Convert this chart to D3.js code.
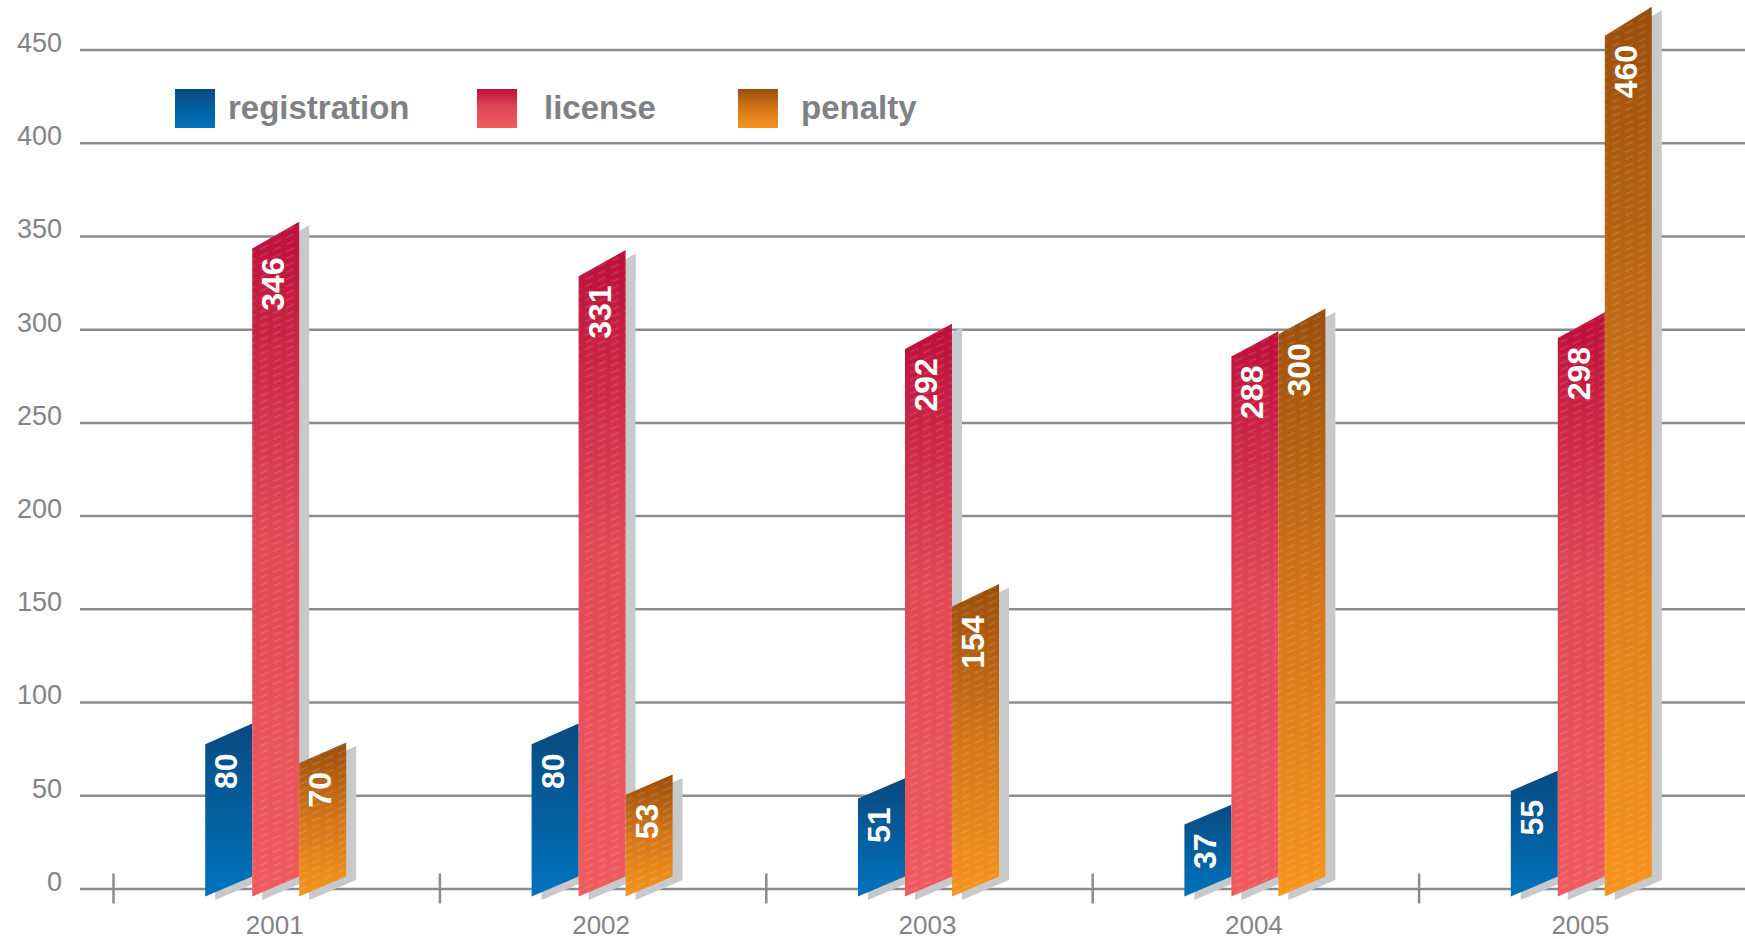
<!DOCTYPE html>
<html>
<head>
<meta charset="utf-8">
<script src="https://cdn.jsdelivr.net/npm/d3@7"></script>
<style>
  html, body { margin: 0; padding: 0; background: #ffffff; }
  svg { display: block; }
</style>
</head>
<body>
<svg id="chart" width="1745" height="939"></svg>
<script>
// ---- data ----
const years = ["2001", "2002", "2003", "2004", "2005"];
const seriesNames = ["registration", "license", "penalty"];
const registration = [80, 80, 51, 37, 55];
const license = [346, 331, 292, 288, 298];
const penalty = [70, 53, 154, 300, 460];
const yTicks = [0, 50, 100, 150, 200, 250, 300, 350, 400, 450];

const seriesValues = [registration, license, penalty];
const gradients = [
  [["0%", "#094a80"], ["100%", "#0073bd"]],
  [["0%", "#bd0f3b"], ["45%", "#e04856"], ["100%", "#f05b5f"]],
  [["0%", "#9a4f0b"], ["50%", "#d4761a"], ["100%", "#f7941d"]]
];
const hatched = [false, true, true];

const W = 1745, H = 939;
const svg = d3.select("#chart");
const defs = svg.append("defs");

gradients.forEach((stops, i) => {
  const g = defs.append("linearGradient").attr("id", "grad" + i)
    .attr("x1", 0).attr("y1", 0).attr("x2", 0).attr("y2", 1);
  stops.forEach(s => g.append("stop").attr("offset", s[0]).attr("stop-color", s[1]));
});

const pat = defs.append("pattern").attr("id", "hatch")
  .attr("patternUnits", "userSpaceOnUse")
  .attr("width", 13).attr("height", 7)
  .attr("patternTransform", "skewY(-24)");
pat.append("line").attr("x1", 0).attr("y1", 1).attr("x2", 8).attr("y2", 1)
  .attr("stroke", "#ffffff").attr("stroke-opacity", 0.2).attr("stroke-width", 1);

// ---- scales ----
const y = d3.scaleLinear().domain([0, 450]).range([888.5, 49.5]);
const x = d3.scaleBand().domain(years).range([113.5, 1745.5]).padding(0);
const inner = d3.scaleBand().domain(seriesNames)
  .range([0, x.bandwidth() * 0.432]).padding(0);
const groupOffset = (x.bandwidth() - inner.range()[1]) / 2 - 1;

const gridColor = "#8b8c90";
const textColor = "#838488";

// ---- y grid / axis ----
const yAxis = d3.axisLeft(y).tickValues(yTicks)
  .tickSize(-(W - 80)).tickPadding(18).tickFormat(d3.format("d"));
const gy = svg.append("g").attr("transform", "translate(80,0)").call(yAxis);
gy.select(".domain").remove();
gy.selectAll(".tick line").attr("stroke", gridColor).attr("stroke-width", 2.5);
gy.selectAll(".tick text")
  .attr("fill", textColor)
  .attr("font-family", "'Liberation Sans', Arial, sans-serif")
  .attr("font-size", 27)
  .attr("dy", "0.07em");

// ---- x axis ----
const xAxis = d3.axisBottom(x).tickSize(0).tickPadding(0);
const gx = svg.append("g").attr("transform", `translate(0,${y(0)})`).call(xAxis);
gx.select(".domain").remove();
gx.selectAll(".tick line").remove();
gx.selectAll(".tick text")
  .attr("fill", textColor)
  .attr("font-family", "'Liberation Sans', Arial, sans-serif")
  .attr("font-size", 26)
  .attr("y", 45).attr("dy", 0)
  .attr("dx", -2);
svg.append("g").selectAll("line").data(years).join("line")
  .attr("x1", d => x(d)).attr("x2", d => x(d))
  .attr("y1", y(0) - 15).attr("y2", y(0) + 15)
  .attr("stroke", gridColor).attr("stroke-width", 2.5);

// ---- bars ----
const barW = inner.bandwidth();
const bottomSlant = 20;
const slant = v => 19 + 0.022 * v;
function barPoints(year, si, v) {
  const x0 = x(year) + groupOffset + inner(seriesNames[si]);
  const x1 = x0 + barW;
  const tl = y(v) + 5;
  const tr = tl - slant(v);
  const bl = y(0) + 8;
  const br = bl - bottomSlant;
  return [[x0, tl], [x1, tr], [x1, br], [x0, bl]];
}
const barData = [];
years.forEach((yr, yi) => {
  seriesValues.forEach((vals, si) => {
    barData.push({ year: yr, si: si, v: vals[yi] });
  });
});
const line = d3.line();

// shadows
svg.append("g").selectAll("path").data(barData).join("path")
  .attr("d", d => line(barPoints(d.year, d.si, d.v)) + "Z")
  .attr("transform", "translate(10,3.5)")
  .attr("fill", "#c8c9cb");

// bars
const gb = svg.append("g");
gb.selectAll("path.bar").data(barData).join("path")
  .attr("class", "bar")
  .attr("d", d => line(barPoints(d.year, d.si, d.v)) + "Z")
  .attr("fill", d => `url(#grad${d.si})`);
gb.selectAll("path.hatch").data(barData.filter(d => hatched[d.si])).join("path")
  .attr("class", "hatch")
  .attr("d", d => line(barPoints(d.year, d.si, d.v)) + "Z")
  .attr("fill", "url(#hatch)");

// value labels
svg.append("g").selectAll("text").data(barData).join("text")
  .attr("transform", d => {
    const p = barPoints(d.year, d.si, d.v);
    const cx = (p[0][0] + p[1][0]) / 2 - 3;
    return `translate(${cx},${p[0][1] + 9}) rotate(-90)`;
  })
  .attr("text-anchor", "end")
  .attr("dy", "0.36em")
  .attr("fill", "#ffffff")
  .attr("font-family", "'Liberation Sans', Arial, sans-serif")
  .attr("font-weight", "bold")
  .attr("font-size", 32)
  .text(d => d.v);

// ---- legend ----
const legendX = [175, 477, 738];
const legendTextX = [228, 544, 801];
const lg = svg.append("g");
seriesNames.forEach((name, i) => {
  lg.append("rect").attr("x", legendX[i]).attr("y", 89)
    .attr("width", 40).attr("height", 39)
    .attr("fill", `url(#grad${i})`);
  lg.append("text").attr("x", legendTextX[i]).attr("y", 119)
    .attr("fill", "#808185")
    .attr("font-family", "'Liberation Sans', Arial, sans-serif")
    .attr("font-weight", "bold")
    .attr("font-size", 33)
    .text(name);
});
</script>
</body>
</html>
